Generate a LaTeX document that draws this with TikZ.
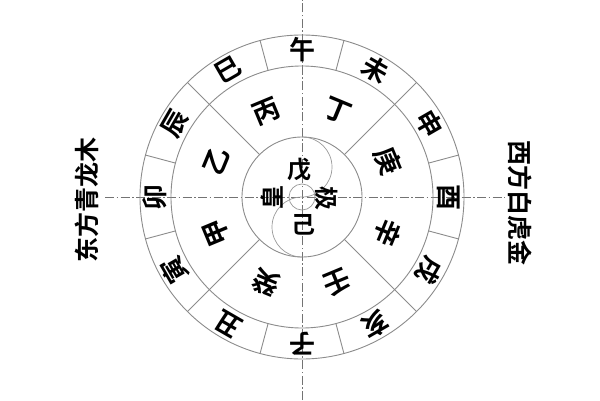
\documentclass[tikz,border=0pt]{standalone}
\usepackage{fontspec}
\newfontfamily\cjk{Noto Sans CJK SC}[BoldFont={Noto Sans CJK SC Bold}]
\begin{document}
\begin{tikzpicture}[x=1pt,y=1pt,
  ringline/.style={draw=black!45, line width=0.9pt},
  taiji/.style={draw=black!40, line width=0.7pt},
  axisline/.style={draw=black!55, line width=0.6pt, dash pattern=on 9pt off 2.5pt on 1.5pt off 2.5pt},
  branch/.style={font=\cjk\bfseries\fontsize{26}{26}\selectfont, inner sep=0pt},
  stem/.style={font=\cjk\bfseries\fontsize{27}{27}\selectfont, inner sep=0pt},
  core/.style={font=\cjk\bfseries\fontsize{24}{24}\selectfont, inner sep=0pt},
  side/.style={font=\cjk\bfseries\fontsize{25}{25}\selectfont, inner sep=0pt}]
\useasboundingbox (0,0) rectangle (600,400);
\fill[white] (0,0) rectangle (600,400);
\coordinate (O) at (302,203);
\coordinate (vt) at (302,400);
\coordinate (vb) at (302,0);
\coordinate (hl) at (105,203);
\coordinate (hr) at (505,203);
\draw[axisline] (vb) -- (vt);
\draw[axisline] (hl) -- (hr);
\begin{scope}[shift={(O)}]
  \draw[ringline] (0,0) circle (162pt);
  \draw[ringline] (0,0) circle (131pt);
  \draw[ringline] (0,0) circle (60pt);
  \foreach \a in {15,45,...,345} \draw[ringline] (\a:131pt) -- (\a:162pt);
  \foreach \a in {45,135,225,315} \draw[ringline] (\a:60pt) -- (\a:131pt);
  % taiji S curve
  \draw[taiji] (0,60pt) arc[start angle=90, end angle=-90, radius=30pt]
                arc[start angle=90, end angle=270, radius=30pt];
  \draw[taiji] (0,0) circle (13pt);
  % branches
  \foreach \a/\t [count=\i] in {90/午,60/未,30/申,0/酉,-30/戌,-60/亥,-90/子,-120/丑,-150/寅,180/卯,150/辰,120/巳}
    \node[branch, rotate=\a-90] (b\i) at (\a:147pt) {\t};
  % stems
  \foreach \a/\t [count=\i] in {112.5/丙,67.5/丁,22.5/庚,-22.5/辛,-67.5/壬,-112.5/癸,-157.5/甲,157.5/乙}
    \node[stem, rotate=\a-90] (s\i) at (\a:93pt) {\t};
  % centre
  \node[core] (wu) at (-3,27) {戊};
  \node[core] (ji) at (1,-28) {己};
  \node[core, rotate=90] (huang) at (-30,0) {皇};
  \node[core, rotate=-90] (jiz) at (25,-1) {极};
\end{scope}
\node[side, rotate=90] (east) at (87,200) {东方青龙木};
\node[side, rotate=-90] (west) at (520,197) {西方白虎金};
\end{tikzpicture}
\end{document}
